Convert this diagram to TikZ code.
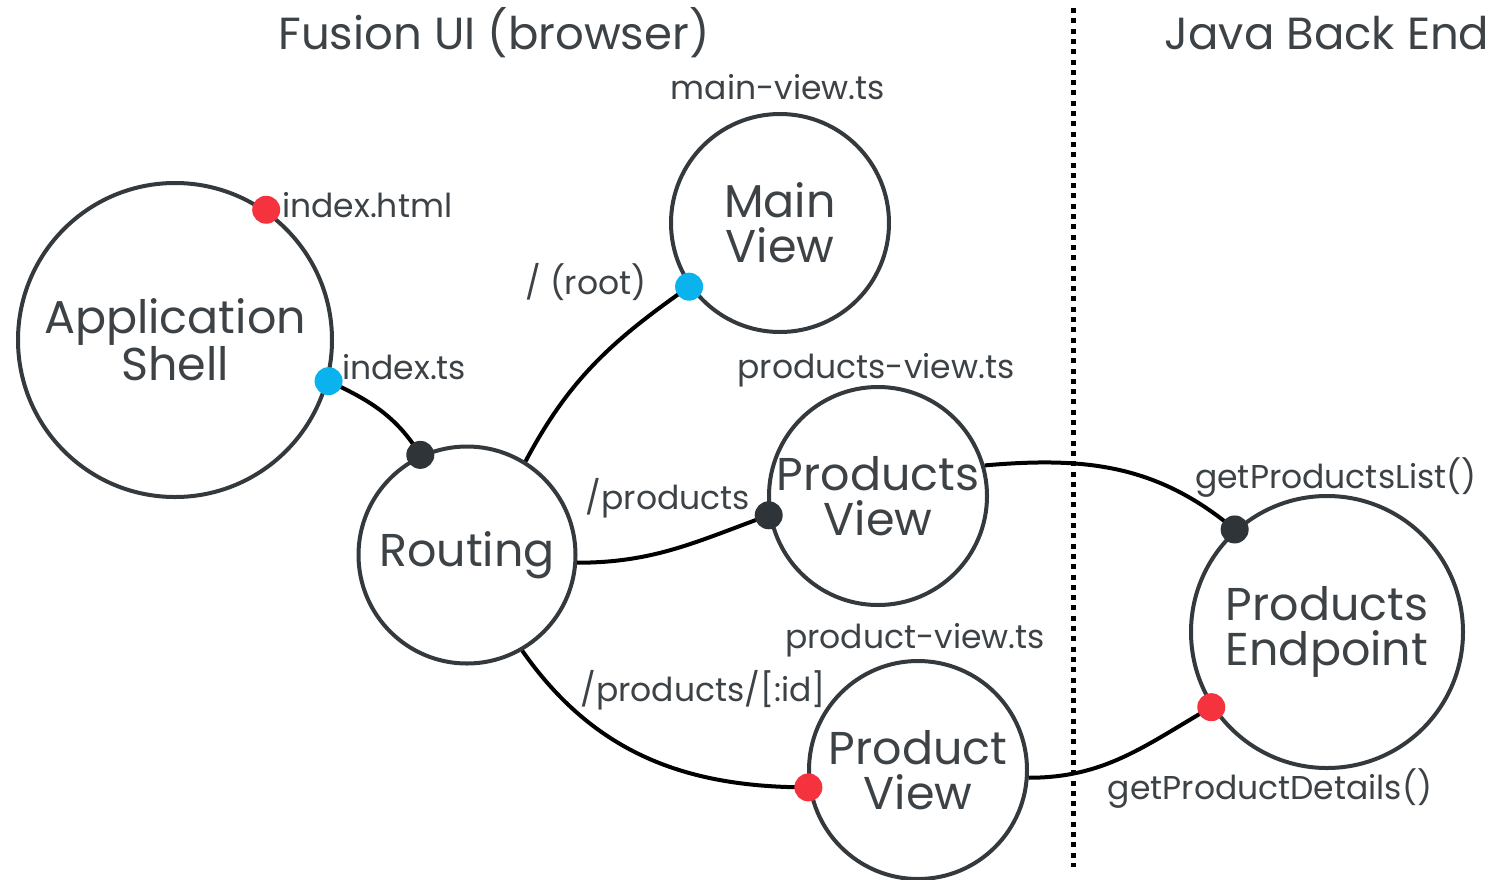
\documentclass[tikz,border=0pt]{standalone}
\usepackage{fontspec}
\setmainfont{Poppins}
\definecolor{ink}{HTML}{33393C}
\definecolor{txt}{HTML}{3C4246}
\definecolor{dotred}{HTML}{F5333F}
\definecolor{dotblue}{HTML}{0AB2EE}
\definecolor{dotdark}{HTML}{2E3437}
\begin{document}
\begin{tikzpicture}[x=1pt,y=-1pt,
  comp/.style={circle,draw=ink,line width=4pt,fill=white,align=center,text=txt,
    font=\fontsize{46}{45}\selectfont,inner sep=0pt},
  lbl/.style={text=txt,font=\fontsize{33}{36}\selectfont,inner sep=0pt},
  ttl/.style={text=txt,font=\fontsize{45}{48}\selectfont,inner sep=0pt},
  wire/.style={line width=4pt,black},
  pin/.style={circle,inner sep=0pt,minimum size=28pt},
  pinred/.style={pin,fill=dotred},
  pinblue/.style={pin,fill=dotblue},
  pindark/.style={pin,fill=dotdark}]
\useasboundingbox (0,0) rectangle (1491,879);
\clip (0,0) rectangle (1491,879);

% titles
\node[ttl] (tfusion) at (494,33) {Fusion UI (browser)};
\node[ttl] (tjava) at (1327,33) {Java Back End};

% separator
\coordinate (septop) at (1073,8);
\coordinate (sepbot) at (1073,867);
\draw[line width=5pt,dash pattern=on 5pt off 5.3pt,black] (septop) -- (sepbot);

% components
\node[comp,minimum size=314pt] (shell) at (175,340) {Application\\Shell};
\node[comp,minimum size=218pt] (main) at (780,223) {Main\\View};
\node[comp,minimum size=217pt] (routing) at (467,555) {Routing};
\node[comp,minimum size=218pt] (plist) at (878,496) {Products\\View};
\node[comp,minimum size=218pt] (pone) at (918,770) {Product\\View};
\node[comp,minimum size=272pt] (ep) at (1327,632) {Products\\Endpoint};

% pin points
\coordinate (shellhtml) at (shell.55);
\coordinate (shellts) at (shell.-15);
\coordinate (routin) at (routing.115);
\coordinate (routmain) at (routing.58);
\coordinate (routlist) at (routing.-4);
\coordinate (routone) at (routing.-60);
\coordinate (mainin) at (main.-145);
\coordinate (plistin) at (plist.190);
\coordinate (plistout) at (plist.16);
\coordinate (ponein) at (pone.189);
\coordinate (poneout) at (pone.-4);
\coordinate (eplist) at (ep.132.6);
\coordinate (epdetail) at (ep.213.6);

% connectors
\draw[wire] (shellts) to[out=-25,in=122] (routin);
\draw[wire] (routmain) to[out=62,in=215] (mainin);
\draw[wire] (routlist) to[out=0,in=200] (plistin);
\draw[wire] (routone) to[out=-55,in=180] (ponein);
\draw[wire] (plistout) to[out=5,in=140] (eplist);
\draw[wire] (poneout) to[out=0,in=210] (epdetail);

% pins
\node[pinred] (dhtml) at (shellhtml) {};
\node[pinblue] (dts) at (shellts) {};
\node[pindark] (drout) at (routin) {};
\node[pinblue] (dmain) at (mainin) {};
\node[pindark] (dlist) at (plistin) {};
\node[pinred] (done) at (ponein) {};
\node[pindark] (deplist) at (eplist) {};
\node[pinred] (depdet) at (epdetail) {};

% labels
\node[lbl] (lmainview) at (778,87) {main-view.ts};
\node[lbl,anchor=west] (lhtml) at (282,205) {index.html};
\node[lbl,anchor=west] (lts) at (342,367) {index.ts};
\node[lbl] (lroot) at (586,282) {/ (root)};
\node[lbl] (lplistview) at (876,370) {products-view.ts};
\node[lbl] (lproducts) at (668,498) {/products};
\node[lbl] (lgetlist) at (1336,478) {getProductsList()};
\node[lbl] (lponeview) at (915,640) {product-view.ts};
\node[lbl] (lid) at (703,690) {/products/[:id]};
\node[lbl] (lgetdet) at (1270,789) {getProductDetails()};
\end{tikzpicture}
\end{document}
